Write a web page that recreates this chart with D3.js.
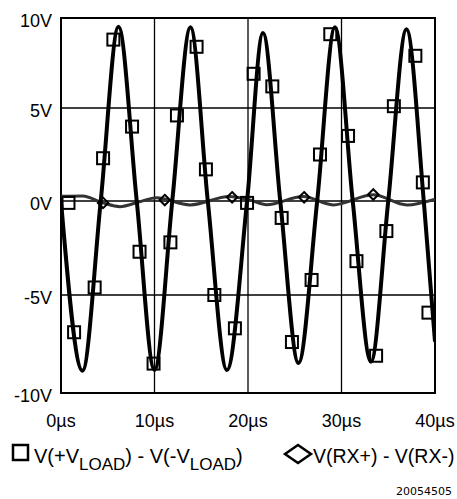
<!DOCTYPE html>
<html>
<head>
<meta charset="utf-8">
<script src="https://cdn.jsdelivr.net/npm/d3@7"></script>
<style>
  body { margin: 0; background: #fff; }
  svg { display: block; }
</style>
</head>
<body>
<div id="chart"></div>
<script>
// axis ticks
const xTicks = [0, 10, 20, 30, 40];
const yTicks = [10, 5, 0, -5, -10];

// V(+VLOAD) - V(-VLOAD): extrema and zero crossings
const loadT = [0, 2.3, 4.25, 6.15, 8.1, 10.0, 11.9, 13.85, 15.7, 17.75, 19.9, 21.6, 23.45, 25.4, 27.4, 29.3, 31.2, 33.15, 35.0, 36.95, 38.8, 40];
const loadV = [0, -8.86, 0, 9.52, 0, -8.83, 0, 9.48, 0, -8.83, 0, 9.17, 0, -8.47, 0, 9.48, 0, -8.4, 0, 9.37, 0, -7.38];

// square markers on the load trace
const sqT = [0.8, 1.4, 3.6, 4.5, 5.6, 7.6, 8.4, 9.9, 11.7, 12.4, 14.5, 15.5, 16.4, 18.6, 19.9, 20.6, 22.6, 23.6, 24.7, 26.8, 27.7, 28.8, 30.7, 31.6, 33.7, 34.8, 35.6, 37.9, 38.7, 39.3];
const sqV = [-0.1, -6.9, -4.6, 2.3, 8.8, 4.0, -2.7, -8.5, -2.2, 4.6, 8.4, 1.7, -5.0, -6.7, -0.1, 6.9, 6.2, -0.9, -7.4, -4.2, 2.5, 9.1, 3.5, -3.2, -8.1, -1.6, 5.1, 7.9, 1.0, -5.9];

// V(RX+) - V(RX-): small ripple around 0V
const rxT = [0, 2.3, 4.5, 6.3, 8.4, 10.2, 13.8, 18.0, 20.2, 22.0, 25.9, 29.1, 33.4, 37.0, 40];
const rxV = [0.25, 0.27, -0.1, -0.3, -0.04, 0.18, -0.21, 0.24, 0.05, -0.2, 0.24, -0.21, 0.33, -0.21, 0.1];

// diamond markers on the rx trace
const dmT = [4.5, 11.1, 18.3, 26.0, 33.4];
const dmV = [-0.1, 0.05, 0.2, 0.2, 0.35];

const width = 457, height = 499;
const plotLeft = 61, plotRight = 435, plotTop = 18, plotBottom = 393;

const svg = d3.select("#chart").append("svg")
    .attr("width", width)
    .attr("height", height)
    .style("font-family", "'Liberation Sans', Arial, sans-serif");

const x = d3.scaleLinear().domain([0, 40]).range([plotLeft, plotRight]);
// the scan is slightly uneven, so the grid rows are not spaced equally
const y = d3.scaleLinear()
    .domain([-10, -5, 0, 5, 10])
    .range([plotBottom, 295, 201, 108, plotTop]);

// grid lines
svg.append("g")
    .selectAll("line")
    .data(xTicks.slice(1, -1))
    .join("line")
    .attr("x1", d => x(d)).attr("x2", d => x(d))
    .attr("y1", plotTop).attr("y2", plotBottom)
    .attr("stroke", "#000")
    .attr("stroke-width", 1.3);

svg.append("g")
    .selectAll("line")
    .data(yTicks.slice(1, -1))
    .join("line")
    .attr("x1", plotLeft).attr("x2", plotRight)
    .attr("y1", d => y(d)).attr("y2", d => y(d))
    .attr("stroke", "#000")
    .attr("stroke-width", 1.3);

// frame
svg.append("rect")
    .attr("x", plotLeft).attr("y", plotTop)
    .attr("width", plotRight - plotLeft).attr("height", plotBottom - plotTop)
    .attr("fill", "none")
    .attr("stroke", "#000")
    .attr("stroke-width", 2);

// tick labels
svg.append("g")
    .selectAll("text")
    .data(yTicks)
    .join("text")
    .attr("x", 52)
    .attr("y", d => y(d) + 3)
    .attr("dy", "0.35em")
    .attr("text-anchor", "end")
    .style("font-size", "18px")
    .text(d => d + "V");

svg.append("g")
    .selectAll("text")
    .data(xTicks)
    .join("text")
    .attr("x", d => x(d))
    .attr("y", 427)
    .attr("text-anchor", "middle")
    .style("font-size", "18px")
    .text(d => d + "\u00b5s");

// traces
svg.append("clipPath").attr("id", "plotClip")
    .append("rect")
    .attr("x", plotLeft).attr("y", plotTop)
    .attr("width", plotRight - plotLeft).attr("height", plotBottom - plotTop);

const line = d3.line()
    .x(d => x(d[0]))
    .y(d => y(d[1]))
    .curve(d3.curveMonotoneX);

svg.append("path")
    .datum(d3.zip(rxT, rxV))
    .attr("clip-path", "url(#plotClip)")
    .attr("d", line)
    .attr("fill", "none")
    .attr("stroke", "#333")
    .attr("stroke-width", 3);

svg.append("path")
    .datum(d3.zip(loadT, loadV))
    .attr("clip-path", "url(#plotClip)")
    .attr("d", line)
    .attr("fill", "none")
    .attr("stroke", "#000")
    .attr("stroke-width", 4);

// markers
const sq = 12;
svg.append("g")
    .selectAll("rect")
    .data(d3.zip(sqT, sqV))
    .join("rect")
    .attr("x", d => x(d[0]) - sq / 2)
    .attr("y", d => y(d[1]) - sq / 2)
    .attr("width", sq).attr("height", sq)
    .attr("fill", "none")
    .attr("stroke", "#000")
    .attr("stroke-width", 2);

const diamond = d3.symbol().type(d3.symbolDiamond2).size(70);
svg.append("g")
    .selectAll("path")
    .data(d3.zip(dmT, dmV))
    .join("path")
    .attr("transform", d => `translate(${x(d[0])},${y(d[1])})`)
    .attr("d", diamond)
    .attr("fill", "none")
    .attr("stroke", "#000")
    .attr("stroke-width", 2);

// legend
svg.append("rect")
    .attr("x", 13).attr("y", 445)
    .attr("width", 15).attr("height", 15)
    .attr("fill", "none")
    .attr("stroke", "#000")
    .attr("stroke-width", 2.5);

const leg1 = svg.append("text")
    .attr("x", 34).attr("y", 463)
    .style("font-size", "20px");
leg1.append("tspan").text("V(+V");
leg1.append("tspan").attr("dy", 7).style("font-size", "17px").text("LOAD");
leg1.append("tspan").attr("dy", -7).text(") - V(-V");
leg1.append("tspan").attr("dy", 7).style("font-size", "17px").text("LOAD");
leg1.append("tspan").attr("dy", -7).text(")");

svg.append("path")
    .attr("transform", "translate(298,454)")
    .attr("d", "M-13,0L0,-9L13,0L0,9Z")
    .attr("fill", "none")
    .attr("stroke", "#000")
    .attr("stroke-width", 2.5);

svg.append("text")
    .attr("x", 313).attr("y", 463)
    .style("font-size", "19.5px")
    .text("V(RX+) - V(RX-)");

svg.append("text")
    .attr("x", 452).attr("y", 495)
    .attr("text-anchor", "end")
    .style("font-family", "'DejaVu Sans', sans-serif")
    .style("font-size", "11px")
    .text("20054505");
</script>
</body>
</html>
